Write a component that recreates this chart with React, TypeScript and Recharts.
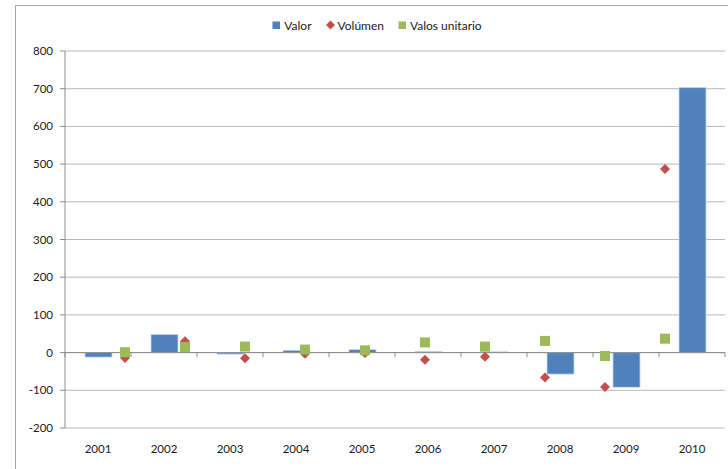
import React from "react";
import {
  ComposedChart,
  Bar,
  Scatter,
  XAxis,
  YAxis,
  CartesianGrid,
  Legend,
  ReferenceLine,
} from "recharts";

const years = ["2001", "2002", "2003", "2004", "2005", "2006", "2007", "2008", "2009", "2010"];
const valor = [-12, 48, -4, 6, 8, 3, 2, -57, -92, 703];
const volumen = [-14, 30, -15, -3, -1, -19, -11, -66, -91, 487];
const unitario = [1, 15, 16, 8, 6, 27, 16, 31, -9, 37];
const yTicks = [-200, -100, 0, 100, 200, 300, 400, 500, 600, 700, 800];

const BLUE = "#4F81BD";
const RED = "#C0504D";
const GREEN = "#9BBB59";
const FONT = "Lato, 'Noto Sans', sans-serif";

const barData = years.map((year, i) => ({ year, valor: valor[i] }));
const volData = years.map((year, i) => ({ x: i + 1, y: volumen[i], year }));
const uniData = years.map((year, i) => ({ x: i + 1, y: unitario[i], year }));

const Diamond = (props: any) => {
  const { cx, cy } = props;
  if (cx == null || cy == null) return null;
  const r = 5;
  return (
    <polygon
      points={`${cx},${cy - r} ${cx + r},${cy} ${cx},${cy + r} ${cx - r},${cy}`}
      fill={RED}
    />
  );
};

const Square = (props: any) => {
  const { cx, cy } = props;
  if (cx == null || cy == null) return null;
  const s = 10;
  return <rect x={cx - s / 2} y={cy - s / 2} width={s} height={s} fill={GREEN} />;
};

const legendItems = [
  { label: "Valor", color: BLUE, kind: "square" },
  { label: "Volúmen", color: RED, kind: "diamond" },
  { label: "Valos unitario", color: GREEN, kind: "square" },
];

const LegendContent = () => (
  <div
    style={{
      display: "flex",
      justifyContent: "center",
      alignItems: "center",
      fontFamily: FONT,
      fontSize: 12,
      color: "#1a1a1a",
      height: 16,
      paddingLeft: 26,
    }}
  >
    {legendItems.map((it, i) => (
      <div
        key={it.label}
        style={{ display: "flex", alignItems: "center", marginLeft: i === 0 ? 0 : 14 }}
      >
        <svg width={9} height={10} style={{ marginRight: 3 }}>
          {it.kind === "square" ? (
            <rect x={0.5} y={1.5} width={7.5} height={7.5} fill={it.color} />
          ) : (
            <polygon points="4.5,0.5 9,5 4.5,9.5 0,5" fill={it.color} />
          )}
        </svg>
        <span>{it.label}</span>
      </div>
    ))}
  </div>
);

export default function App() {
  return (
    <div
      style={{
        position: "absolute",
        left: 0,
        top: 0,
        width: 728,
        height: 469,
        background: "#fff",
        overflow: "hidden",
      }}
    >
      <div
        style={{
          position: "absolute",
          left: 15,
          top: 5,
          width: 760,
          height: 520,
          border: "1px solid #a6a6a6",
          boxSizing: "border-box",
        }}
      />
      <div style={{ position: "absolute", left: 0, top: 0 }}>
        <ComposedChart
          width={728}
          height={469}
          data={barData}
          margin={{ top: 51, right: 3, bottom: 11, left: 15 }}
        >
          <CartesianGrid vertical={false} stroke="#b8b8b8" strokeWidth={1} yAxisId="y" />
          <Legend
            verticalAlign="middle"
            align="center"
            layout="horizontal"
            wrapperStyle={{ top: 17, left: 0, width: 728 }}
            content={LegendContent}
          />
          <XAxis
            xAxisId="cat"
            dataKey="year"
            type="category"
            axisLine={false}
            tickLine={false}
            height={30}
            tickMargin={11}
            tick={{ fontFamily: FONT, fontSize: 11.5, fill: "#1a1a1a" }}
            interval={0}
          />
          <XAxis
            xAxisId="num"
            dataKey="x"
            type="number"
            domain={[0, 11]}
            allowDataOverflow
            hide
          />
          <YAxis
            yAxisId="y"
            type="number"
            domain={[-200, 800]}
            ticks={yTicks}
            interval={0}
            width={50}
            axisLine={{ stroke: "#8c8c8c" }}
            tickLine={{ stroke: "#8c8c8c" }}
            tickSize={5}
            tickMargin={7}
            tick={{ fontFamily: FONT, fontSize: 11.5, fill: "#1a1a1a" }}
          />
          <ReferenceLine y={0} yAxisId="y" xAxisId="cat" stroke="#8c8c8c" strokeWidth={1} />
          {years.concat([""]).map((_, k) => (
            <ReferenceLine
              key={"t" + k}
              xAxisId="num"
              yAxisId="y"
              segment={[
                { x: k * 1.1, y: 0 },
                { x: k * 1.1, y: -12 },
              ]}
              stroke="#8c8c8c"
              strokeWidth={1}
              ifOverflow="visible"
            />
          ))}
          <Bar
            xAxisId="cat"
            yAxisId="y"
            dataKey="valor"
            name="Valor"
            fill={BLUE}
            stroke="#c6d6ea"
            strokeWidth={0.8}
            barSize={27}
            isAnimationActive={false}
          />
          <Scatter
            xAxisId="num"
            yAxisId="y"
            data={volData}
            dataKey="y"
            name="Volúmen"
            shape={Diamond}
            isAnimationActive={false}
          />
          <Scatter
            xAxisId="num"
            yAxisId="y"
            data={uniData}
            dataKey="y"
            name="Valos unitario"
            shape={Square}
            isAnimationActive={false}
          />
        </ComposedChart>
      </div>
    </div>
  );
}
